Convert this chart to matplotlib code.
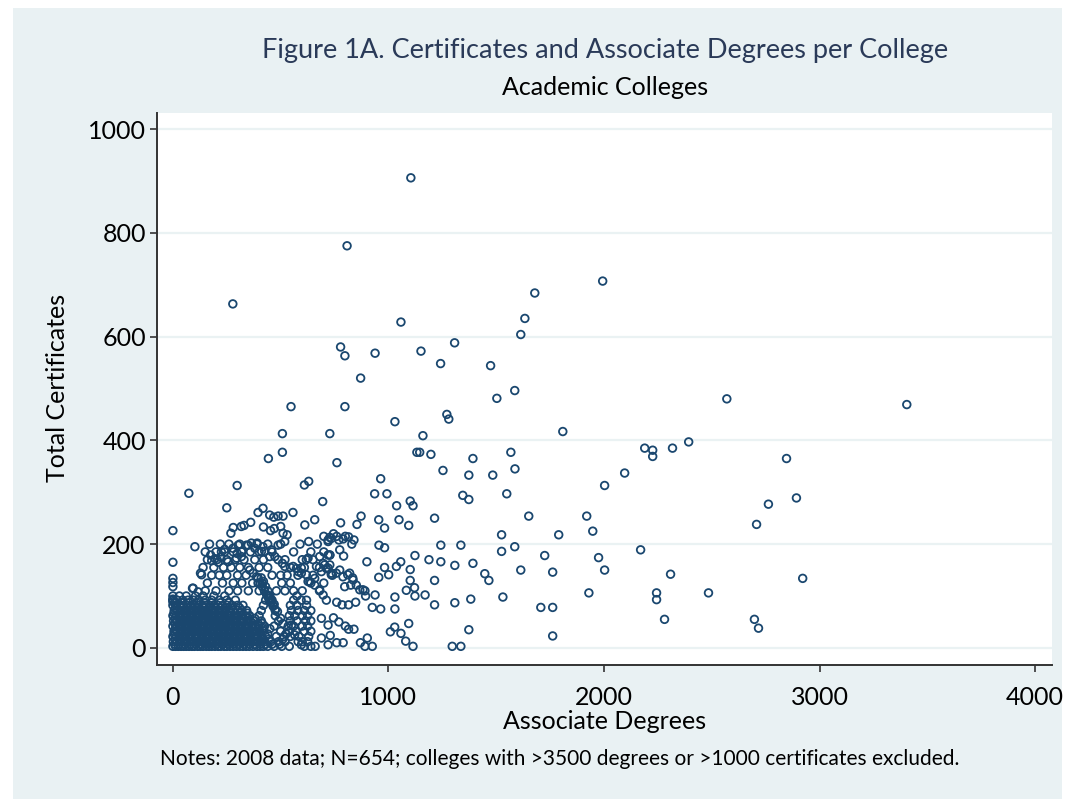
import matplotlib
matplotlib.use("Agg")
import matplotlib.pyplot as plt
from matplotlib.patches import Rectangle

# Scattered colleges, read one by one (associate degrees, total certificates)
deg_sparse = [1104, 808, 278, 1994, 1679, 1633, 1614, 1058, 778, 798, 938, 1151, 1307, 1242, 1474, 871,
              1503, 1586, 548, 798, 2570, 3405,
              1809, 1568, 2189, 2226, 2226, 2318, 2393, 1587, 2096, 2003, 1549, 1651, 1920, 1948, 1525, 1790,
              1525, 1586, 1725, 2170, 1975, 1614, 1762, 2003, 2309, 1531, 1930, 2244, 2244, 2485, 1707, 1762,
              2281, 1762,
              2847, 2763, 2893, 2708, 2922, 2698, 2717,
              1271, 1280, 1160, 1145, 1197, 1392, 1253, 1373, 1484, 1345, 1373, 1214, 1243, 1336, 1188, 1243,
              1308, 1392, 1447, 1466, 1214, 1170, 1214, 1308, 1382, 1373, 1296, 1336,
              1030, 728, 1132, 761, 964, 936, 993, 1038, 1101, 1114, 778, 854, 873, 955, 1049, 1094, 982,
              956, 982, 900, 1123, 1057, 1037, 982, 1001, 955, 1101, 1101, 1083, 1123, 1030, 938, 1030, 925,
              964, 1094, 1029, 1009, 1058, 1080, 1114, 891, 925, 902, 891, 1121,
              508, 443, 508, 74, 298, 610, 630, 695, 250, 0, 102, 269, 317, 361, 395, 418, 449, 468, 488, 511,
              557, 453, 511, 530, 612, 658]
cert_sparse = [906, 775, 663, 707, 684, 635, 604, 628, 580, 563, 568, 572, 588, 548, 544, 520,
               481, 496, 465, 465, 480, 469,
               417, 377, 385, 381, 369, 385, 397, 345, 337, 313, 297, 254, 254, 225, 218, 218,
               186, 195, 178, 189, 174, 150, 146, 150, 142, 98, 106, 106, 93, 106, 78, 78,
               55, 23,
               365, 277, 289, 238, 134, 55, 38,
               450, 441, 409, 377, 373, 365, 342, 333, 333, 294, 286, 250, 198, 198, 170, 166,
               159, 163, 143, 130, 130, 102, 83, 87, 94, 35, 3, 3,
               436, 413, 377, 357, 326, 297, 297, 274, 283, 274, 241, 238, 254, 247, 247, 236, 231,
               198, 193, 166, 178, 166, 157, 155, 141, 136, 151, 130, 111, 100, 98, 102, 75, 78,
               75, 47, 40, 31, 28, 13, 3, 3, 3, 19, 110, 116,
               413, 365, 377, 298, 313, 314, 321, 282, 270, 226, 195, 221, 234, 242, 261, 269, 256, 252, 254, 254,
               261, 226, 221, 218, 237, 247]

# Medium density area left of 1000 degrees
deg_mid = [0, 0, 0, 0, 0, 0, 94, 128, 175, 180, 195, 210, 222, 225, 240, 298, 318, 341, 364, 391, 418, 426,
           449, 473, 488, 508, 519, 558, 573, 596, 619, 619, 666, 697, 728, 712, 735, 758, 789, 820, 836, 851,
           882, 635, 658, 681, 697, 712, 357, 372, 388,
           728, 760, 790, 815, 840, 774, 792, 728, 728, 735, 774, 811, 834, 797, 825, 867, 894, 760, 785, 815,
           848, 745, 770, 800, 815, 840, 730, 760, 790, 870,
           700, 720, 745, 770, 800, 830, 256, 295, 318, 279, 303, 349, 380, 411, 457, 488, 519,
           630, 627, 681, 720, 720, 735, 596, 581, 627, 658, 689, 704, 720, 689, 720, 689, 720, 581, 596, 565, 550,
           280, 330, 420, 470, 500, 133, 91, 117,
           395, 405, 415, 425, 435, 445, 455, 465, 475, 485, 410, 420, 430, 440, 450, 460, 470]
cert_mid = [165, 134, 126, 118, 94, 89, 115, 144, 179, 168, 172, 165, 175, 185, 190, 182, 176, 198, 202, 202, 195, 186,
            176, 176, 170, 163, 157, 157, 153, 144, 141, 170, 157, 163, 179, 153, 144, 144, 137, 144, 131, 121,
            112, 128, 121, 112, 102, 92, 150, 144, 137,
            213, 215, 210, 214, 208, 189, 177, 179, 160, 141, 150, 141, 135, 118, 121, 112, 100, 88, 83, 83,
            88, 58, 50, 42, 36, 36, 24, 10, 10, 10,
            215, 205, 220, 208, 215, 200, 166, 173, 186, 192, 198, 198, 192, 186, 189, 198, 205,
            205, 173, 176, 179, 208, 211, 154, 147, 128, 134, 147, 160, 154, 57, 44, 19, 6, 12, 6, 25, 44,
            232, 236, 233, 230, 234, 141, 115, 108,
            135, 125, 118, 110, 102, 95, 88, 80, 74, 70, 135, 128, 118, 110, 100, 92, 84]

# Dense cluster near the origin, listed row by row: certificates level and degrees on that row
cluster_cert = [3, 12, 22, 32, 42, 52, 62, 72, 82, 92, 100,
                110, 125, 140, 155, 170, 185, 200,
                7, 17, 27, 37, 47, 57, 67, 77, 87]
cluster_deg = [
    [0, 12, 25, 38, 50, 62, 75, 88, 100, 115, 128, 140, 155, 168, 180, 195, 210, 222, 238, 250, 265, 280, 295,
     310, 325, 340, 355, 372, 390, 405, 420, 440, 470, 505, 540, 610, 640, 660],
    [2, 18, 32, 45, 60, 72, 86, 98, 112, 125, 138, 152, 166, 178, 192, 206, 220, 234, 248, 262, 276, 290, 305,
     318, 333, 348, 362, 378, 392, 408, 425, 455, 490, 520, 600, 625],
    [0, 14, 28, 40, 55, 68, 80, 95, 108, 120, 135, 148, 162, 175, 188, 202, 215, 230, 245, 258, 272, 288, 300,
     315, 330, 345, 360, 375, 390, 410, 430, 480, 515, 545, 585, 630],
    [5, 20, 35, 48, 62, 76, 90, 103, 117, 130, 144, 158, 171, 185, 198, 212, 226, 240, 255, 268, 283, 297, 312,
     326, 340, 356, 370, 386, 400, 420, 500, 540, 570, 610, 640],
    [0, 15, 30, 42, 57, 70, 84, 97, 110, 124, 138, 151, 165, 179, 192, 206, 220, 234, 247, 262, 276, 290, 304,
     320, 335, 350, 366, 380, 398, 425, 470, 535, 560, 600, 625],
    [3, 18, 33, 47, 62, 75, 88, 102, 115, 130, 143, 156, 170, 184, 197, 212, 226, 240, 253, 268, 282, 296, 312,
     328, 344, 360, 378, 410, 490, 545, 575, 615, 640],
    [0, 14, 28, 44, 58, 72, 86, 100, 113, 127, 141, 155, 168, 182, 196, 210, 225, 240, 255, 270, 285, 300, 318,
     336, 356, 400, 475, 540, 565, 600, 625],
    [6, 22, 38, 52, 66, 80, 95, 108, 122, 136, 150, 166, 180, 196, 212, 228, 244, 262, 280, 300, 320, 342,
     410, 475, 550, 580, 610, 640],
    [0, 16, 34, 50, 66, 84, 100, 118, 136, 154, 172, 190, 210, 230, 252, 275, 300, 325, 420, 465, 545, 575, 620],
    [0, 20, 45, 70, 95, 120, 150, 180, 215, 250, 290, 430, 455, 560, 595, 620],
    [0, 30, 62, 105, 140, 190, 240, 440, 445, 575],
    [150, 200, 260, 300, 350, 400, 425, 480, 520, 560, 600, 680],
    [160, 230, 280, 320, 370, 395, 415, 505, 545, 640, 700],
    [180, 215, 250, 300, 340, 460, 500, 530, 580, 650, 740],
    [140, 190, 235, 270, 310, 350, 400, 440, 545, 610, 680],
    [160, 205, 250, 290, 330, 380, 420, 520, 600, 650],
    [150, 200, 240, 280, 320, 360, 400, 460, 560, 640, 700],
    [170, 220, 260, 310, 390, 440, 500, 590, 670],
    [8, 30, 55, 80, 105, 130, 155, 180, 205, 230, 255, 280, 305, 330, 355, 380, 405, 430, 460, 495],
    [10, 35, 60, 85, 110, 135, 160, 185, 210, 240, 265, 290, 315, 340, 365, 390, 415, 445, 510],
    [6, 32, 58, 82, 108, 132, 158, 182, 208, 232, 258, 282, 308, 332, 358, 382, 408, 440, 525],
    [12, 38, 64, 90, 115, 140, 165, 190, 215, 240, 265, 290, 318, 345, 372, 400, 420, 450],
    [8, 34, 60, 86, 112, 138, 162, 188, 214, 240, 266, 292, 318, 344, 370, 395, 415, 510],
    [10, 36, 62, 88, 114, 140, 166, 192, 218, 244, 270, 296, 322, 350, 380, 500],
    [5, 30, 56, 82, 108, 134, 160, 186, 212, 238, 264, 290, 312, 345],
    [12, 40, 66, 92, 118, 144, 170, 196, 222, 248, 272, 310],
    [8, 40, 75, 110, 145, 180, 220, 260],
]

x_ticks = [0, 1000, 2000, 3000, 4000]
y_ticks = [0, 200, 400, 600, 800, 1000]

degrees = deg_sparse + deg_mid
certs = cert_sparse + cert_mid
for c, row in zip(cluster_cert, cluster_deg):
    degrees += row
    certs += [c] * len(row)

plt.rcParams['font.family'] = ['Lato', 'DejaVu Sans']
navy = '#1a476f'

fig = plt.figure(figsize=(10.67, 7.99), dpi=100, facecolor='white')
fig.patches.append(Rectangle((0.012, 0.0), 0.983, 0.99, transform=fig.transFigure,
                             facecolor='#e9f1f3', edgecolor='none', zorder=-10))

ax = fig.add_axes([0.1471, 0.1677, 0.8389, 0.6909])
ax.set_facecolor('white')
ax.scatter(degrees, certs, s=30, facecolors='none', edgecolors=navy, linewidths=1.3, zorder=3)

ax.set_xlim(-74, 4079)
ax.set_ylim(-33, 1031)
ax.set_xticks(x_ticks)
ax.set_yticks(y_ticks)
ax.grid(axis='y', color='#eaf2f3', linewidth=1.6, zorder=0)
ax.set_axisbelow(True)

for side in ['top', 'right']:
    ax.spines[side].set_visible(False)
ax.spines['left'].set_color('#333333')
ax.spines['bottom'].set_color('#333333')
ax.spines['left'].set_linewidth(1.4)
ax.spines['bottom'].set_linewidth(1.4)
ax.tick_params(axis='both', length=5, width=1.2, color='#333333', labelsize=18, labelcolor='black')
ax.tick_params(axis='x', pad=10)
ax.tick_params(axis='y', pad=3)

fig.text(0.567, 0.937, 'Figure 1A. Certificates and Associate Degrees per College',
         ha='center', va='center', fontsize=19.5, color='#2a3a58')
fig.text(0.567, 0.890, 'Academic Colleges', ha='center', va='center', fontsize=18, color='black')
fig.text(0.054, 0.514, 'Total Certificates', ha='center', va='center', rotation=90, fontsize=18)
fig.text(0.567, 0.0964, 'Associate Degrees', ha='center', va='center', fontsize=18)
fig.text(0.150, 0.050, 'Notes: 2008 data; N=654; colleges with >3500 degrees or >1000 certificates excluded.',
         ha='left', va='center', fontsize=15)

fig.savefig('out.png', dpi=100, facecolor=fig.get_facecolor())
